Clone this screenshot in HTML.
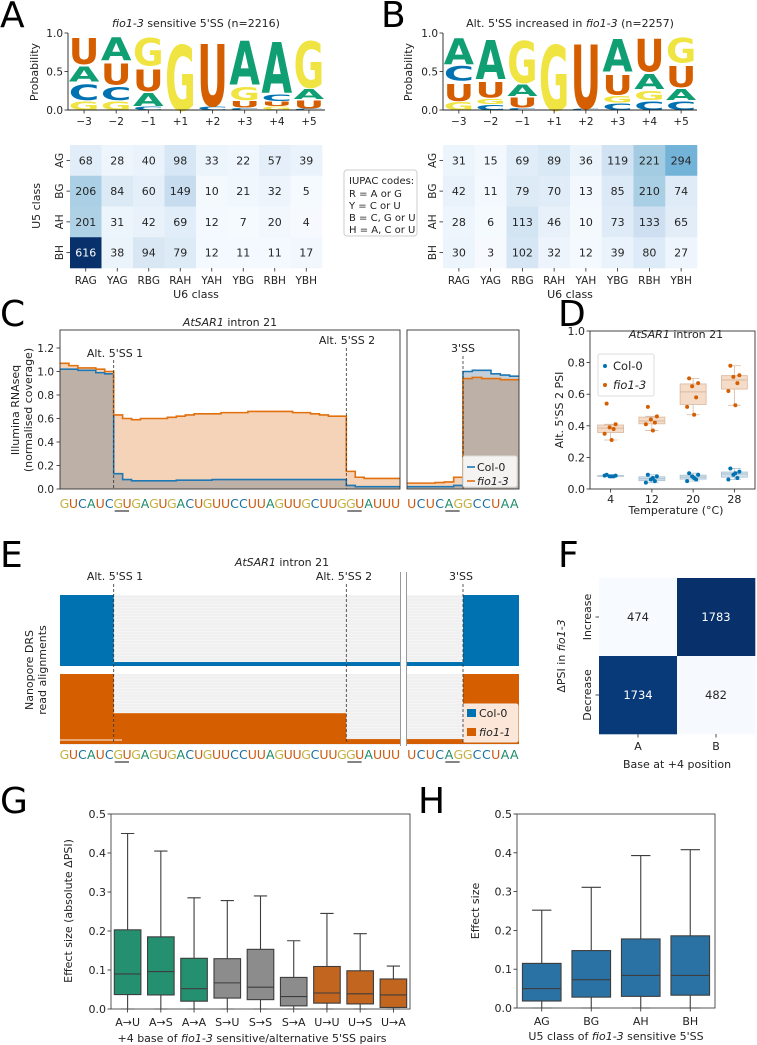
<!DOCTYPE html>
<html><head><meta charset="utf-8">
<style>
html,body{margin:0;padding:0;background:#fff;}
svg{display:block;font-family:"DejaVu Sans","Liberation Sans",sans-serif;}
</style></head>
<body>
<svg id="fig" xmlns="http://www.w3.org/2000/svg" width="757" height="1045" viewBox="0 0 757 1045">
<rect x="0" y="0" width="757" height="1045" fill="#fff"/>
<g font-size="36" fill="#000">
<text x="0" y="27">A</text>
<text x="381" y="27">B</text>
<text x="0" y="326">C</text>
<text x="558" y="326">D</text>
<text x="0" y="567">E</text>
<text x="558" y="567">F</text>
<text x="0" y="813">G</text>
<text x="418" y="813">H</text>
</g>
<g font-size="11" fill="#222">
<text x="196" y="27" text-anchor="middle"><tspan font-style="italic">fio1-3</tspan> sensitive 5'SS (n=2216)</text>
<text x="570" y="27" text-anchor="middle">Alt. 5'SS increased in <tspan font-style="italic">fio1-3</tspan> (n=2257)</text>
<text transform="translate(38,72) rotate(-90)" text-anchor="middle">Probability</text>
<text transform="translate(412,72) rotate(-90)" text-anchor="middle">Probability</text>
<text transform="translate(40,206) rotate(-90)" text-anchor="middle">U5 class</text>
<text transform="translate(414,206) rotate(-90)" text-anchor="middle">U5 class</text>
<text x="196" y="298" text-anchor="middle">U6 class</text>
<text x="570" y="298" text-anchor="middle">U6 class</text>
</g>
<g font-size="10" fill="#222">
<rect x="344" y="170" width="73" height="66" rx="3" fill="#fff" stroke="#ccc"/>
<text x="349" y="184">IUPAC codes:</text>
<text x="349" y="197">R = A or G</text>
<text x="349" y="209">Y = C or U</text>
<text x="349" y="221">B = C, G or U</text>
<text x="349" y="233">H = A, C or U</text>
</g>
<g font-size="11" fill="#222">
<text x="230" y="326" text-anchor="middle"><tspan font-style="italic">AtSAR1</tspan> intron 21</text>
<text transform="translate(19,410) rotate(-90)" text-anchor="middle">Illumina RNAseq</text>
<text transform="translate(32,410) rotate(-90)" text-anchor="middle">(normalised coverage)</text>
<text x="115" y="357" text-anchor="middle">Alt. 5'SS 1</text>
<text x="347" y="344" text-anchor="middle">Alt. 5'SS 2</text>
<text x="463" y="352" text-anchor="middle">3'SS</text>
<text x="676" y="338" text-anchor="middle"><tspan font-style="italic">AtSAR1</tspan> intron 21</text>
<text transform="translate(563,410) rotate(-90)" text-anchor="middle">Alt. 5'SS 2 PSI</text>
<text x="676" y="514" text-anchor="middle">Temperature (°C)</text>
<text x="282" y="566" text-anchor="middle"><tspan font-style="italic">AtSAR1</tspan> intron 21</text>
<text x="115" y="580" text-anchor="middle">Alt. 5'SS 1</text>
<text x="344" y="580" text-anchor="middle">Alt. 5'SS 2</text>
<text x="461" y="580" text-anchor="middle">3'SS</text>
<text transform="translate(33,670) rotate(-90)" text-anchor="middle">Nanopore DRS</text>
<text transform="translate(46,670) rotate(-90)" text-anchor="middle">read alignments</text>
<text x="677" y="768" text-anchor="middle">Base at +4 position</text>
<text transform="translate(565,656) rotate(-90)" text-anchor="middle">ΔPSI in <tspan font-style="italic">fio1-3</tspan></text>
<text transform="translate(72,911) rotate(-90)" text-anchor="middle">Effect size (absolute ΔPSI)</text>
<text x="252" y="1042" text-anchor="middle">+4 base of <tspan font-style="italic">fio1-3</tspan> sensitive/alternative 5'SS pairs</text>
<text transform="translate(479,911) rotate(-90)" text-anchor="middle">Effect size</text>
<text x="616" y="1040" text-anchor="middle">U5 class of <tspan font-style="italic">fio1-3</tspan> sensitive 5'SS</text>
</g>
<g id="marks"></g>
</svg>
<script>
// ---------- data ----------
const logoPositions = ['−3','−2','−1','+1','+2','+3','+4','+5'];
const logoA = [
 [['G',.13],['C',.24],['A',.23],['U',.40]],
 [['G',.13],['C',.20],['U',.32],['A',.35]],
 [['C',.05],['A',.20],['U',.33],['G',.42]],
 [['G',1.0]],
 [['C',.05],['U',.95]],
 [['C',.03],['U',.10],['G',.20],['A',.67]],
 [['G',.05],['U',.07],['C',.10],['A',.78]],
 [['C',.02],['U',.12],['A',.15],['G',.71]]
];
const logoB = [
 [['G',.12],['U',.26],['C',.22],['A',.40]],
 [['C',.08],['G',.08],['U',.24],['A',.60]],
 [['C',.03],['U',.15],['A',.18],['G',.64]],
 [['G',1.0]],
 [['C',.02],['U',.98]],
 [['C',.10],['G',.10],['U',.30],['A',.50]],
 [['C',.13],['G',.14],['A',.23],['U',.50]],
 [['C',.13],['A',.17],['U',.32],['G',.38]]
];
const u5Classes = ['AG','BG','AH','BH'];
const u6Classes = ['RAG','YAG','RBG','RAH','YAH','YBG','RBH','YBH'];
const heatA = [[68,28,40,98,33,22,57,39],[206,84,60,149,10,21,32,5],[201,31,42,69,12,7,20,4],[616,38,94,79,12,11,11,17]];
const heatB = [[31,15,69,89,36,119,221,294],[42,11,79,70,13,85,210,74],[28,6,113,46,10,73,133,65],[30,3,102,32,12,39,80,27]];
const heatVmax = 616;
const seqLeft = 'GUCAUCGUGAGUGACUGUUCCUUAGUUGCUUGGUAUUU';
const seqRight = 'UCUCAGGCCUAA';
const covFioLeft = [1.07,1.05,1.03,1.03,1.02,1.0,0.63,0.6,0.59,0.6,0.6,0.6,0.61,0.62,0.63,0.64,0.64,0.64,0.65,0.65,0.65,0.66,0.66,0.66,0.66,0.66,0.65,0.65,0.64,0.63,0.62,0.62,0.15,0.1,0.09,0.09,0.09,0.09];
const covColLeft = [1.02,1.02,1.01,1.01,0.99,0.98,0.13,0.08,0.07,0.07,0.07,0.07,0.07,0.075,0.075,0.075,0.075,0.08,0.08,0.08,0.08,0.08,0.08,0.08,0.08,0.08,0.08,0.08,0.08,0.08,0.08,0.08,0.03,0.02,0.02,0.02,0.02,0.02];
const covFioRight = [0.05,0.05,0.05,0.055,0.06,0.1,0.94,0.95,0.94,0.94,0.93,0.93];
const covColRight = [0.02,0.02,0.02,0.02,0.02,0.03,1.0,1.01,1.01,0.98,0.97,0.96];
const covTicks = [0,0.2,0.4,0.6,0.8,1.0,1.2];
const temps = ['4','12','20','28'];
const psiFio = [[0.54,0.41,0.39,0.38,0.35,0.31],[0.52,0.46,0.44,0.42,0.41,0.37],[0.70,0.67,0.65,0.58,0.52,0.47],[0.78,0.72,0.71,0.67,0.62,0.53]];
const psiCol = [[0.09,0.085,0.08,0.08,0.085,0.08],[0.09,0.08,0.06,0.05,0.04,0.07],[0.10,0.09,0.08,0.06,0.05,0.07],[0.13,0.11,0.09,0.07,0.06,0.10]];
const psiTicks = [0,0.2,0.4,0.6,0.8,1.0];
const drsCol = [1, 0.056, 0.056, 0.056, 1];
const drsFio = [1, 0.44, 0.07, 0.07, 1];
const fRows = ['Increase','Decrease'];
const fCols = ['A','B'];
const fValues = [[474,1783],[1734,482]];
const gCats = ['A→U','A→S','A→A','S→U','S→S','S→A','U→U','U→S','U→A'];
const gLow = [0,0,0,0,0,0,0,0,0];
const gQ1 = [0.037,0.036,0.02,0.028,0.024,0.008,0.015,0.013,0.004];
const gMed = [0.09,0.096,0.052,0.067,0.056,0.032,0.041,0.039,0.036];
const gQ3 = [0.203,0.185,0.13,0.129,0.153,0.081,0.109,0.098,0.077];
const gHigh = [0.45,0.405,0.285,0.278,0.29,0.175,0.245,0.193,0.11];
const hCats = ['AG','BG','AH','BH'];
const hLow = [0,0,0,0];
const hQ1 = [0.018,0.028,0.03,0.033];
const hMed = [0.05,0.073,0.084,0.084];
const hQ3 = [0.115,0.148,0.178,0.186];
const hHigh = [0.252,0.311,0.393,0.408];
const effTicks = [0,0.1,0.2,0.3,0.4,0.5];

// ---------- helpers ----------
const NS='http://www.w3.org/2000/svg';
const root=document.getElementById('marks');
function mk(tag,attrs,parent){const e=document.createElementNS(NS,tag);for(const k in attrs)e.setAttribute(k,attrs[k]);(parent||root).appendChild(e);return e;}
function txt(s,x,y,attrs,parent){const e=mk('text',Object.assign({x:x,y:y,'font-size':10.5,fill:'#222'},attrs||{}),parent);e.textContent=s;return e;}
function lin(v0,v1,p0,p1){return v=>p0+(v-v0)/(v1-v0)*(p1-p0);}
const NUC={A:'#109e73',C:'#0072b2',G:'#f0e442',U:'#d55e00'};
const NUCTXT={A:'#1a8a6a',C:'#1a6fa0',G:'#c4b040',U:'#cc5a10'};
const BLUES=['#f7fbff','#deebf7','#c6dbef','#9ecae1','#6baed6','#4292c6','#2171b5','#08519c','#08306b'];
function hex(c){return [1,3,5].map(i=>parseInt(c.substr(i,2),16));}
function blues(t){t=Math.max(0,Math.min(1,t));const p=t*8;const i=Math.min(7,Math.floor(p));const f=p-i;const a=hex(BLUES[i]),b=hex(BLUES[i+1]);return 'rgb('+a.map((v,k)=>Math.round(v+(b[k]-v)*f)).join(',')+')';}
function quant(arr,q){const s=arr.slice().sort((a,b)=>a-b);const p=(s.length-1)*q;const i=Math.floor(p);const f=p-i;return s[i]+(i+1<s.length?(s[i+1]-s[i])*f:0);}

// ---------- logos ----------
function drawLogo(data,x0,x1,yTop,yBot,name){
  const g=mk('g',{});
  
  
  const cw=(x1-x0)/data.length;
  const y=lin(0,1,yBot,yTop);
  data.forEach((col,i)=>{
    let acc=0;
    col.forEach(([b,h])=>{
      const t=mk('text',{x:0,y:0,'font-size':100,'font-weight':'bold',fill:NUC[b]},g);
      
      
      t.textContent=b;
      const bb=t.getBBox();
      const w=cw-1.5, hh=(y(acc)-y(acc+h));
      const sx=w/bb.width, sy=hh/(bb.height*0.74);
      const bx=x0+i*cw+0.75;
      t.setAttribute('transform','translate('+bx+','+y(acc)+') scale('+sx+','+sy+') translate('+(-bb.x)+',0)');
      acc+=h;
    });
    const tx=x0+(i+0.5)*cw;
    const tk=mk('line',{x1:tx,x2:tx,y1:yBot,y2:yBot+3.5,stroke:'#222','stroke-width':0.8},g);
    
    
    const lb=txt(logoPositions[i],tx,yBot+15,{'text-anchor':'middle'},g);
    
    
  });
  [0,0.5,1].forEach(v=>{
    const tk=mk('line',{x1:x0-3.5,x2:x0,y1:y(v),y2:y(v),stroke:'#222','stroke-width':0.8},g);
    
    
    const lb=txt(v.toFixed(1),x0-5,y(v)+4,{'text-anchor':'end'},g);
    
    
  });
  const sp=mk('path',{d:'M'+x0+','+yTop+'V'+yBot+'H'+x1,fill:'none',stroke:'#222','stroke-width':0.9},g);
  
  
}
drawLogo(logoA,68,325,33,110,'sequence-logo-a');
drawLogo(logoB,443,697,33,110,'sequence-logo-b');

// ---------- heatmaps A/B ----------
function drawHeat(vals,x0,x1,y0,y1,name){
  const g=mk('g',{});
  
  
  const mn=0,mx=heatVmax;
  const cw=(x1-x0)/u6Classes.length, ch=(y1-y0)/u5Classes.length;
  vals.forEach((row,r)=>row.forEach((v,c)=>{
    const t=(v-mn)/(mx-mn);
    const rc=mk('rect',{x:x0+c*cw,y:y0+r*ch,width:cw+0.3,height:ch+0.3,fill:blues(t)},g);
    
    
    const lb=txt(String(v),x0+(c+0.5)*cw,y0+(r+0.5)*ch+4,{'text-anchor':'middle','font-size':11,fill:t>0.6?'#fff':'#262626'},g);
    
    
  }));
  u5Classes.forEach((k,r)=>{
    const cy=y0+(r+0.5)*ch;
    const tk=mk('line',{x1:x0-3.5,x2:x0,y1:cy,y2:cy,stroke:'#222','stroke-width':0.8},g);
    
    
    const lb=txt(k,0,0,{'text-anchor':'middle',transform:'translate('+(x0-7)+','+cy+') rotate(-90)'},g);
    
    
  });
  u6Classes.forEach((k,c)=>{
    const cx=x0+(c+0.5)*cw;
    const tk=mk('line',{x1:cx,x2:cx,y1:y1,y2:y1+3.5,stroke:'#222','stroke-width':0.8},g);
    
    
    const lb=txt(k,cx,y1+16,{'text-anchor':'middle'},g);
    
    
  });
}
drawHeat(heatA,70,322,145,268,'heatmap-a');
drawHeat(heatB,443,697,145,268,'heatmap-b');

// ---------- C coverage ----------
const covY=lin(0,1,489,489-117.5);
function stepPath(vals,x0,w){let d='M'+x0+','+covY(vals[0]);vals.forEach((v,i)=>{d+='V'+covY(v)+'H'+(x0+(i+1)*w);});return d;}
function drawCov(fio,col,seq,x0,x1,name){
  const g=mk('g',{});
  
  
  const w=(x1-x0)/seq.length;
  const base=covY(0);
  const fa=mk('path',{d:stepPath(fio,x0,w)+'V'+base+'H'+x0+'Z',fill:'rgba(222,110,20,0.3)'},g);
  
  
  const ca=mk('path',{d:stepPath(col,x0,w)+'V'+base+'H'+x0+'Z',fill:'rgba(60,100,130,0.3)'},g);
  
  
  const cl=mk('path',{d:stepPath(col,x0,w),fill:'none',stroke:'#1f77b4','stroke-width':1.6},g);
  
  
  const fl=mk('path',{d:stepPath(fio,x0,w),fill:'none',stroke:'#e1700e','stroke-width':1.6},g);
  
  
  const bx=mk('rect',{x:x0,y:330,width:x1-x0,height:159,fill:'none',stroke:'#333','stroke-width':0.9},g);
  
  
  for(let i=0;i<seq.length;i++){
    const t=txt(seq[i],x0+(i+0.5)*w,508,{'text-anchor':'middle','font-size':12.5,fill:NUCTXT[seq[i]]},g);
    
    
  }
  return w;
}
const wL=drawCov(covFioLeft,covColLeft,seqLeft,60,400,'coverage-left');
const wR=drawCov(covFioRight,covColRight,seqRight,407,519,'coverage-right');
covTicks.forEach(v=>{
  const tk=mk('line',{x1:56.5,x2:60,y1:covY(v),y2:covY(v),stroke:'#222','stroke-width':0.8});
  
  
  const lb=txt(v.toFixed(1),54,covY(v)+4,{'text-anchor':'end'});
  
  
});
function dashed(x,y0,y1,name){const l=mk('line',{x1:x,x2:x,y1:y0,y2:y1,stroke:'#333','stroke-width':0.8,'stroke-dasharray':'3,2'});}
function underline(x,y,name){const l=mk('line',{x1:x,x2:x+wL*1.6,y1:y,y2:y,stroke:'#333','stroke-width':1.2});}
const xAlt1=60+6*wL, xAlt2=60+32*wL, x3ss=407+6*wR;
dashed(xAlt1,360,489,'coverage-alt1-line');dashed(xAlt2,348,489,'coverage-alt2-line');dashed(x3ss,356,489,'coverage-3ss-line');
underline(xAlt1+1,511,'coverage-alt1-underline');underline(xAlt2+1,511,'coverage-alt2-underline');underline(x3ss-wR*2+1,511,'coverage-3ss-underline');
(function(){
  const g=mk('g',{});
  
  
  const b=mk('rect',{x:463,y:456,width:54,height:31,fill:'rgba(255,255,255,0.85)',stroke:'#ddd',rx:2},g);
  
  
  const l1=mk('line',{x1:467,x2:475,y1:467,y2:467,stroke:'#1f77b4','stroke-width':1.6},g);
  
  
  const t1=txt('Col-0',477,471,{'font-size':11},g);
  
  
  const l2=mk('line',{x1:467,x2:475,y1:481,y2:481,stroke:'#e1700e','stroke-width':1.6},g);
  
  
  const t2=txt('fio1-3',477,485,{'font-size':11,'font-style':'italic'},g);
  
  
})();

// ---------- D PSI ----------
(function(){
  const x0=590,x1=755,y=lin(0,1,489,331);
  const bw=(x1-x0)/temps.length;
  const g=mk('g',{});
  
  
  const jit=[-4,5,-1,3,-6,1];
  function box(pts,cx,fill,stroke,dot,name){
    const q1=quant(pts,.25),md=quant(pts,.5),q3=quant(pts,.75),iqr=q3-q1;
    const inl=pts.filter(p=>p>=q1-1.5*iqr&&p<=q3+1.5*iqr);
    const lo=Math.min(...inl),hi=Math.max(...inl);const hw=13;
    const wl=mk('path',{d:'M'+cx+','+y(hi)+'V'+y(q3)+'M'+cx+','+y(q1)+'V'+y(lo)+'M'+(cx-hw/2)+','+y(hi)+'h'+hw+'M'+(cx-hw/2)+','+y(lo)+'h'+hw,stroke:stroke,'stroke-width':0.8,fill:'none'},g);
    
    
    const r=mk('rect',{x:cx-hw,y:y(q3),width:hw*2,height:y(q1)-y(q3),fill:fill,stroke:stroke,'stroke-width':0.8},g);
    
    
    const m=mk('line',{x1:cx-hw,x2:cx+hw,y1:y(md),y2:y(md),stroke:stroke,'stroke-width':1},g);
    
    
    pts.forEach((p,k)=>{const c=mk('circle',{cx:cx+jit[k],cy:y(p),r:2,fill:dot},g);});
  }
  temps.forEach((t,i)=>{
    const cx=x0+(i+0.5)*bw;
    box(psiFio[i],cx,'#f5dcc8','#d8b8a0','#d55e00','psi-fio1-3-'+t);
    box(psiCol[i],cx,'#d3e2ec','#a9c1d2','#0072b2','psi-col-0-'+t);
    const tk=mk('line',{x1:cx,x2:cx,y1:489,y2:492.5,stroke:'#222','stroke-width':0.8});
    
    
    const lb=txt(t,cx,503,{'text-anchor':'middle','font-size':11});
    
    
  });
  psiTicks.forEach(v=>{
    const tk=mk('line',{x1:x0-3.5,x2:x0,y1:y(v),y2:y(v),stroke:'#222','stroke-width':0.8});
    
    
    const lb=txt(v.toFixed(1),x0-5,y(v)+4,{'text-anchor':'end','font-size':11});
    
    
  });
  const fr=mk('rect',{x:x0,y:331,width:x1-x0,height:158,fill:'none',stroke:'#333','stroke-width':0.9});
  
  
  const lg=mk('rect',{x:598,y:354,width:56,height:42,fill:'#fff',stroke:'#ddd',rx:2});
  
  
  const d1=mk('circle',{cx:605,cy:366,r:2,fill:'#0072b2'});
  
  
  const t1=txt('Col-0',613,370,{'font-size':11.5});
  
  
  const d2=mk('circle',{cx:605,cy:385,r:2,fill:'#d55e00'});
  
  
  const t2=txt('fio1-3',613,389,{'font-size':11.5,'font-style':'italic'});
  
  
})();

// ---------- E DRS ----------
(function(){
  const g=mk('g',{});
  
  
  const segsFull=[[60,xAlt1],[xAlt1,xAlt2],[xAlt2,400],[407,x3ss],[x3ss,519]];
  const bg=mk('rect',{x:60,y:595,width:459,height:150,fill:'#f4f4f4'},g);
  
  
  for(let yy=597;yy<745;yy+=3){const l=mk('line',{x1:60,x2:519,y1:yy,y2:yy,stroke:'#e2e2e2','stroke-width':0.6},g);}
  function band(vals,yTop,yBot,color,name){
    const h=yBot-yTop;
    vals.forEach((f,i)=>{const s=segsFull[i];const r=mk('rect',{x:s[0],y:yBot-f*h,width:s[1]-s[0],height:f*h,fill:color},g);});
  }
  const wb=mk('rect',{x:60,y:666,width:459,height:8,fill:'#fff'},g);
  
  
  band(drsCol,595,666,'#0072b2','drs-col-0');
  band(drsFio,674,744,'#d55e00','drs-fio1-1');
  const wl=mk('line',{x1:60,x2:122,y1:740,y2:740,stroke:'#f6d8c0','stroke-width':1.2},g);
  
  
  const gap=mk('rect',{x:400,y:572,width:7,height:174,fill:'#fff'},g);
  
  
  [400.5,406.5].forEach(x=>{const l=mk('line',{x1:x,x2:x,y1:572,y2:746,stroke:'#999','stroke-width':1},g);});
  dashed(xAlt1,584,744,'drs-alt1-line');dashed(xAlt2,584,744,'drs-alt2-line');dashed(x3ss,584,744,'drs-3ss-line');
  [[seqLeft,60,wL],[seqRight,407,wR]].forEach(([s,x0,w])=>{for(let i=0;i<s.length;i++){const t=txt(s[i],x0+(i+0.5)*w,759,{'text-anchor':'middle','font-size':12.5,fill:NUCTXT[s[i]]},g);}});
  underline(xAlt1+1,762,'drs-alt1-underline');underline(xAlt2+1,762,'drs-alt2-underline');underline(x3ss-wR*2+1,762,'drs-3ss-underline');
  const lb=mk('rect',{x:463,y:704,width:55,height:38,fill:'#fbe6d8',stroke:'#eee',rx:2},g);
  
  
  const s1=mk('rect',{x:467,y:709,width:9,height:8,fill:'#0072b2'},g);
  
  
  const t1=txt('Col-0',479,717,{'font-size':11},g);
  
  
  const s2=mk('rect',{x:467,y:728,width:9,height:8,fill:'#d55e00'},g);
  
  
  const t2=txt('fio1-1',479,736,{'font-size':11,'font-style':'italic'},g);
  
  
})();

// ---------- F heatmap ----------
(function(){
  const x0=599,y0=578,c=78;
  const g=mk('g',{});
  
  
  const flat=fValues.flat(),mn=Math.min(...flat),mx=Math.max(...flat);
  fValues.forEach((row,r)=>row.forEach((v,k)=>{
    const t=(v-mn)/(mx-mn);
    const rc=mk('rect',{x:x0+k*c,y:y0+r*c,width:c+0.3,height:c+0.3,fill:blues(t)},g);
    
    
    const lb=txt(String(v),x0+(k+0.5)*c,y0+(r+0.5)*c+4,{'text-anchor':'middle','font-size':11.5,fill:t>0.5?'#fff':'#262626'},g);
    
    
  }));
  fCols.forEach((k,i)=>{const cx=x0+(i+0.5)*c;const tk=mk('line',{x1:cx,x2:cx,y1:y0+2*c,y2:y0+2*c+3.5,stroke:'#222','stroke-width':0.8},g);const lb=txt(k,cx,y0+2*c+16,{'text-anchor':'middle','font-size':11},g);});
  fRows.forEach((k,i)=>{const cy=y0+(i+0.5)*c;const tk=mk('line',{x1:x0-3.5,x2:x0,y1:cy,y2:cy,stroke:'#222','stroke-width':0.8},g);const lb=txt(k,0,0,{'text-anchor':'middle','font-size':11,transform:'translate('+(x0-8)+','+cy+') rotate(-90)'},g);});
})();

// ---------- G/H boxplots ----------
function boxChart(cats,lo,q1,md,q3,hi,colors,x0,x1,yTop,yBot,bwFrac,name){
  const y=lin(0,0.5,yBot,yTop);
  const g=mk('g',{});
  
  
  const cw=(x1-x0)/cats.length;
  cats.forEach((k,i)=>{
    const cx=x0+(i+0.5)*cw,hw=cw*bwFrac/2,cap=hw/2;
    const w=mk('path',{d:'M'+cx+','+y(hi[i])+'V'+y(q3[i])+'M'+cx+','+y(q1[i])+'V'+y(lo[i])+'M'+(cx-cap)+','+y(hi[i])+'h'+cap*2+'M'+(cx-cap)+','+y(lo[i])+'h'+cap*2,stroke:'#3d3d3d','stroke-width':1.1,fill:'none'},g);
    
    
    const r=mk('rect',{x:cx-hw,y:y(q3[i]),width:hw*2,height:y(q1[i])-y(q3[i]),fill:colors[i],stroke:'#3d3d3d','stroke-width':1.1},g);
    
    
    const m=mk('line',{x1:cx-hw,x2:cx+hw,y1:y(md[i]),y2:y(md[i]),stroke:'#3d3d3d','stroke-width':1.1},g);
    
    
    const tk=mk('line',{x1:cx,x2:cx,y1:yBot,y2:yBot+3.5,stroke:'#222','stroke-width':0.8},g);
    
    
    const lb=txt(k,cx,yBot+17,{'text-anchor':'middle','font-size':11},g);
    
    
  });
  effTicks.forEach(v=>{
    const tk=mk('line',{x1:x0-3.5,x2:x0,y1:y(v),y2:y(v),stroke:'#222','stroke-width':0.8},g);
    
    
    const lb=txt(v.toFixed(1),x0-5,y(v)+4,{'text-anchor':'end','font-size':11},g);
    
    
  });
  const fr=mk('rect',{x:x0,y:yTop,width:x1-x0,height:yBot-yTop,fill:'none',stroke:'#444','stroke-width':0.9},g);
  
  
}
const GG='#25906f',GR='#8c8c8c',GO='#c2651f';
boxChart(gCats,gLow,gQ1,gMed,gQ3,gHigh,[GG,GG,GG,GR,GR,GR,GO,GO,GO],111,410,814,1009,0.8,'g-boxplot');
boxChart(hCats,hLow,hQ1,hMed,hQ3,hHigh,['#2a72a4','#2a72a4','#2a72a4','#2a72a4'],517,715,814,1008,0.78,'h-boxplot');
</script>
</body></html>
